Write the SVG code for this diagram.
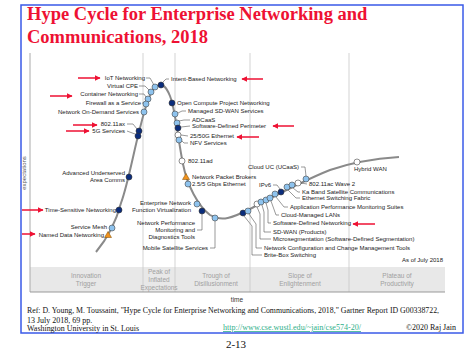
<svg xmlns="http://www.w3.org/2000/svg" width="472" height="351" viewBox="0 0 472 351">
<defs>
<marker id="ah" viewBox="0 0 10 10" refX="9" refY="5" markerWidth="4" markerHeight="4" orient="auto-start-reverse" markerUnits="strokeWidth">
<path d="M0,0 L10,5 L0,10 z" fill="#ee1133"/>
</marker>
<style>
.t{font-family:"Liberation Serif","Times New Roman",serif}
.s{font-family:"Liberation Sans",Arial,sans-serif;font-size:6px;fill:#1a1a1a}
.e{text-anchor:end}
.ph{font-family:"Liberation Sans",Arial,sans-serif;font-size:6.5px;fill:#a0a0a0;text-anchor:middle}
.dk{fill:#0b2d7c;stroke:#333;stroke-width:.6}
.lt{fill:#8ec3ee;stroke:#444;stroke-width:.6}
.wh{fill:#fff;stroke:#444;stroke-width:.6}
.tr{fill:#f0921e;stroke:#7a4a00;stroke-width:.5}
.ld{fill:none;stroke:#555;stroke-width:.6}
.ar{stroke:#ee1133;stroke-width:1.5;fill:none;marker-end:url(#ah)}
.gl{stroke:#c8c8c8;stroke-width:.8}
</style>
</defs>
<rect width="472" height="351" fill="#fff"/>
<rect x="21" y="5" width="442" height="328" fill="none" stroke="#3a5ae8" stroke-width="1.5"/>
<g id="title" class="t" font-weight="bold" font-size="18.5" fill="#ee1133">
<text x="27" y="20">Hype Cycle for Enterprise Networking and</text>
<text x="27" y="43">Communications, 2018</text>
</g>
<g id="chart">
<rect x="30" y="267" width="415" height="25" fill="#e8e8e8"/>
<line class="gl" x1="143" y1="53" x2="143" y2="292"/>
<line class="gl" x1="175" y1="53" x2="175" y2="292"/>
<line class="gl" x1="250" y1="53" x2="250" y2="292"/>
<line class="gl" x1="349" y1="53" x2="349" y2="292"/>
<line x1="30" y1="53" x2="30" y2="292" stroke="#aaa" stroke-width="1"/>
<line x1="30" y1="292" x2="445" y2="292" stroke="#999" stroke-width="1"/>
<text transform="translate(26,173) rotate(-90)" text-anchor="middle" font-family="Liberation Sans,Arial,sans-serif" font-size="6" fill="#555">expectations</text>
<text class="ph" x="86" y="278">Innovation</text><text class="ph" x="86" y="286">Trigger</text>
<text class="ph" x="159" y="274">Peak of</text><text class="ph" x="159" y="282">Inflated</text><text class="ph" x="159" y="290">Expectations</text>
<text class="ph" x="216" y="278">Trough of</text><text class="ph" x="216" y="286">Disillusionment</text>
<text class="ph" x="300" y="278">Slope of</text><text class="ph" x="300" y="286">Enlightenment</text>
<text class="ph" x="397" y="278">Plateau of</text><text class="ph" x="397" y="286">Productivity</text>
<text x="237" y="302" text-anchor="middle" font-family="Liberation Sans,Arial,sans-serif" font-size="6.5" fill="#333">time</text>
<text class="s e" x="443" y="262">As of July 2018</text>
</g>
<g id="curve">
<path d="M96,252 C106,240 116,222 121,203 C128,184 134,150 140,128 C145,108 150,90 157,86 C162,83 166,86 170,96 C176,112 178,140 183,164 C187,185 198,206 210,215 C222,222 232,218 250,209 C275,196 300,182 330,170 C350,163 370,159 399,157" fill="none" stroke="#8a8a8a" stroke-width="2"/>
</g>
<g id="connectors">
<path class="ld" d="M146,78 L150,78 L154,85"/>
<path class="ld" d="M139,86 L145,86 L149,90"/>
<path class="ld" d="M139,94 L144,94 L146,97"/>
<path class="ld" d="M142,103 L144,103"/>
<path class="ld" d="M127,124 L133,124 L137,129"/>
<path class="ld" d="M127,131 L135,134"/>
<path class="ld" d="M163,82 L166,79 L169,79"/>
<path class="ld" d="M178,113 L182,111 L186,111"/>
<path class="ld" d="M179,121 L184,120 L190,120"/>
<path class="ld" d="M181,127 L190,126"/>
<path class="ld" d="M181,135 L188,136"/>
<path class="ld" d="M181,140 L184,143 L188,143"/>
<path class="ld" d="M202,214 L202,230 L197,230"/>
<path class="ld" d="M215,221 L215,248 L210,248"/>
<path class="ld" d="M301,167 L305,167 L306,176"/>
<path class="ld" d="M273,185 L277,185 L280,189"/>
<path class="ld" d="M301,183 L307,184"/>
<path class="ld" d="M293,188 L298,192 L300,192"/>
<path class="ld" d="M288,190 L296,198 L300,198"/>
<path class="ld" d="M276,197 L284,207 L288,207"/>
<path class="ld" d="M271,201 L276,215 L279,215"/>
<path class="ld" d="M266,203 L268,210 L268,223 L271,223"/>
<path class="ld" d="M262,205 L264,212 L264,232 L271,232"/>
<path class="ld" d="M257,207 L260,214 L260,239 L271,239"/>
<path class="ld" d="M249,214 L256,224 L256,248 L262,248"/>
<path class="ld" d="M244,216 L252,226 L252,255 L262,255"/>
</g>
<g id="arrows">
<line class="ar" x1="78" y1="78" x2="100" y2="78"/>
<line class="ar" x1="50" y1="96" x2="72" y2="96"/>
<line class="ar" x1="73" y1="125" x2="97" y2="125"/>
<line class="ar" x1="66" y1="131" x2="89" y2="131"/>
<line class="ar" x1="22" y1="210" x2="43" y2="210"/>
<line class="ar" x1="22" y1="234" x2="35" y2="234"/>
<line class="ar" x1="263" y1="79" x2="242" y2="79"/>
<line class="ar" x1="294" y1="126" x2="273" y2="126"/>
<line class="ar" x1="259" y1="137" x2="237" y2="137"/>
<line class="ar" x1="375" y1="224" x2="353" y2="224"/>
</g>
<g id="iot"><circle class="lt" cx="155" cy="87" r="3"/><text class="s e" x="145" y="80">IoT Networking</text></g>
<g id="vcpe"><circle class="lt" cx="151" cy="92" r="3"/><text class="s e" x="138" y="88">Virtual CPE</text></g>
<g id="container"><circle class="lt" cx="148" cy="99" r="3"/><text class="s e" x="138" y="96">Container Networking</text></g>
<g id="fwaas"><circle class="lt" cx="146" cy="104" r="3"/><text class="s e" x="141" y="105">Firewall as a Service</text></g>
<g id="nods"><circle class="lt" cx="144" cy="112" r="3"/><text class="s e" x="139" y="114">Network On-Demand Services</text></g>
<g id="ibn"><circle class="dk" cx="161" cy="85" r="3"/><text class="s" x="171" y="81">Intent-Based Networking</text></g>
<g id="wifi6"><circle class="dk" cx="139" cy="131" r="3"/><text class="s e" x="125" y="126">802.11ax</text></g>
<g id="fiveg"><circle class="dk" cx="138" cy="136" r="3"/><text class="s e" x="125" y="133">5G Services</text></g>
<g id="auac"><circle class="dk" cx="129" cy="177" r="3"/><text class="s e" x="125" y="175">Advanced Underserved</text><text class="s e" x="125" y="182">Area Comms</text></g>
<g id="tsn"><circle class="dk" cx="119" cy="210" r="3"/><text class="s e" x="116" y="212">Time-Sensitive Networking</text></g>
<g id="mesh"><circle class="lt" cx="112" cy="228" r="3"/><text class="s e" x="107" y="229">Service Mesh</text></g>
<g id="ndn"><polygon class="tr" points="108,231.5 104.5,237.5 111.5,237.5"/><text class="s e" x="104" y="237">Named Data Networking</text></g>
<g id="ocp"><circle class="dk" cx="172" cy="103" r="3"/><text class="s" x="177" y="105">Open Compute Project Networking</text></g>
<g id="msdwan"><circle class="lt" cx="175" cy="114" r="3"/><text class="s" x="188" y="113">Managed SD-WAN Services</text></g>
<g id="adcaas"><circle class="lt" cx="177" cy="123" r="3"/><text class="s" x="192" y="122">ADCaaS</text></g>
<g id="sdp"><circle class="dk" cx="178" cy="128" r="3"/><text class="s" x="192" y="128">Software-Defined Perimeter</text></g>
<g id="eth2550"><circle class="wh" cx="178" cy="135" r="3"/><text class="s" x="190" y="138">25/50G Ethernet</text></g>
<g id="nfvs"><circle class="lt" cx="179" cy="140" r="3"/><text class="s" x="190" y="145">NFV Services</text></g>
<g id="wigig"><circle class="wh" cx="182" cy="161" r="3"/><text class="s" x="188" y="163">802.11ad</text></g>
<g id="npb"><polygon class="tr" points="186,173.5 182.5,179.5 189.5,179.5"/><text class="s" x="192" y="179">Network Packet Brokers</text></g>
<g id="mgig"><circle class="lt" cx="188" cy="184" r="3"/><text class="s" x="192" y="186">2.5/5 Gbps Ethernet</text></g>
<g id="enfv"><circle class="lt" cx="197" cy="204" r="3"/><text class="s e" x="191" y="205">Enterprise Network</text><text class="s e" x="191" y="212">Function Virtualization</text></g>
<g id="npmd"><circle class="dk" cx="202" cy="211" r="3"/><text class="s e" x="195" y="225">Network Performance</text><text class="s e" x="195" y="232">Monitoring and</text><text class="s e" x="195" y="239">Diagnostics Tools</text></g>
<g id="mss"><circle class="lt" cx="215" cy="218" r="3"/><text class="s e" x="208" y="250">Mobile Satellite Services</text></g>
<g id="bbs"><circle class="dk" cx="243" cy="213" r="3"/><text class="s" x="264" y="257">Brite-Box Switching</text></g>
<g id="nccm"><circle class="lt" cx="248" cy="211" r="3"/><text class="s" x="264" y="250">Network Configuration and Change Management Tools</text></g>
<g id="microseg"><circle class="wh" cx="257" cy="204" r="3"/><text class="s" x="273" y="241">Microsegmentation (Software-Defined Segmentation)</text></g>
<g id="sdwan"><circle class="lt" cx="261" cy="202" r="3"/><text class="s" x="273" y="234">SD-WAN (Products)</text></g>
<g id="sdn"><circle class="lt" cx="266" cy="200" r="3"/><text class="s" x="273" y="225">Software-Defined Networking</text></g>
<g id="cmlan"><circle class="lt" cx="270" cy="198" r="3"/><text class="s" x="281" y="217">Cloud-Managed LANs</text></g>
<g id="apm"><circle class="lt" cx="275" cy="194" r="3"/><text class="s" x="290" y="209">Application Performance Monitoring Suites</text></g>
<g id="ipv6"><circle class="dk" cx="281" cy="192" r="3"/><text class="s" x="259" y="187">IPv6</text></g>
<g id="esf"><circle class="lt" cx="287" cy="187" r="3"/><text class="s" x="302" y="200">Ethernet Switching Fabric</text></g>
<g id="kaband"><circle class="lt" cx="292" cy="185" r="3"/><text class="s" x="302" y="194">Ka Band Satellite Communications</text></g>
<g id="wave2"><circle class="wh" cx="298" cy="183" r="3"/><text class="s" x="309" y="186">802.11ac Wave 2</text></g>
<g id="ucaas"><circle class="lt" cx="306" cy="179" r="3"/><text class="s e" x="299" y="169">Cloud UC (UCaaS)</text></g>
<g id="hwan"><circle class="wh" cx="357" cy="162" r="3"/><text class="s" x="354" y="171">Hybrid WAN</text></g>
<g id="footer" class="t" fill="#111">
<text x="27" y="313" font-size="8" textLength="412" lengthAdjust="spacingAndGlyphs">Ref: D. Young, M. Toussaint, "Hype Cycle for Enterprise Networking and Communications, 2018," Gartner Report ID G00338722,</text>
<text x="27" y="323" font-size="8">13 July 2018, 69 pp.</text>
<text x="27" y="331" font-size="8" textLength="112" lengthAdjust="spacingAndGlyphs">Washington University in St. Louis</text>
<text x="223" y="330" font-size="8" fill="#2fb08a" text-decoration="underline" textLength="138" lengthAdjust="spacingAndGlyphs">http://www.cse.wustl.edu/~jain/cse574-20/</text>
<text x="456" y="330" font-size="8" text-anchor="end">©2020 Raj Jain</text>
<text x="236" y="348" font-size="11" text-anchor="middle">2-13</text>
</g>
</svg>
